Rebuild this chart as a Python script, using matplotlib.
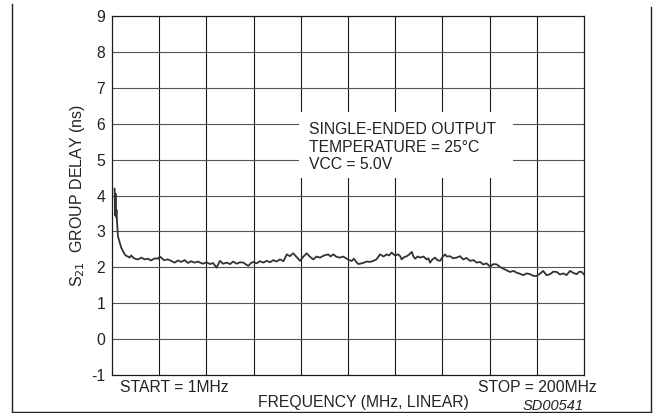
import matplotlib
matplotlib.use("Agg")
import matplotlib.pyplot as plt
from matplotlib.lines import Line2D
from matplotlib.patches import Rectangle

plt.rcParams['font.family'] = ['Liberation Sans', 'DejaVu Sans']

# Frequency (MHz) and S21 group delay (ns)
freq_mhz = [2.1, 2.3, 2.5, 2.7, 2.9, 3.1, 3.5, 4.2, 4.9, 5.6, 6.4, 7.0, 7.7, 8.4, 9.1, 9.9,
            10.6, 12.0, 13.4, 14.7, 16.2, 17.4, 19.1, 20.4, 21.2, 22.9, 24.6, 25.9, 27.4,
            28.8, 30.1, 31.7, 33.0, 34.3, 35.9, 37.3, 38.1, 39.4, 40.9, 42.3, 43.6, 45.1,
            46.5, 47.8, 49.4, 50.8, 52.1, 53.5, 55.0, 56.4, 57.5, 58.5, 59.6, 60.6, 61.9,
            63.4, 64.8, 66.2, 67.6, 69.0, 70.4, 71.8, 73.3, 74.7, 76.0, 77.4, 78.9, 80.3,
            81.7, 83.1, 84.5, 85.9, 87.2, 88.7, 90.4, 92.2, 93.1, 94.3, 95.7, 97.1, 98.4,
            100.0, 100.9, 102.1, 103.0, 104.2, 104.9, 105.6, 106.8, 108.4, 109.8, 111.2,
            112.5, 114.0, 115.5, 116.8, 117.8, 118.9, 120.3, 121.7, 122.6, 123.1, 124.1,
            125.3, 126.2, 127.4, 128.1, 128.8, 129.8, 130.9, 132.3, 133.7, 134.4, 135.1,
            136.1, 137.2, 138.2, 139.3, 140.3, 141.4, 142.2, 143.5, 144.8, 146.3, 147.7,
            149.1, 150.5, 151.9, 153.4, 154.8, 156.2, 157.5, 158.9, 160.4, 161.8, 163.2,
            164.6, 166.0, 167.3, 168.8, 170.3, 171.6, 173.0, 174.4, 175.8, 177.2, 178.7,
            180.1, 181.4, 182.8, 184.2, 185.7, 187.1, 188.5, 189.9, 191.3, 192.6, 194.1,
            195.6, 196.9, 198.1, 199.0, 200.0]
delay_ns = [4.19, 3.45, 4.05, 3.40, 3.60, 3.30, 2.87, 2.70, 2.55, 2.45, 2.36, 2.32, 2.30, 2.27,
            2.33, 2.27, 2.24, 2.22, 2.27, 2.22, 2.24, 2.19, 2.25, 2.24, 2.30, 2.20, 2.22, 2.18,
            2.13, 2.19, 2.15, 2.20, 2.12, 2.17, 2.13, 2.16, 2.13, 2.10, 2.14, 2.09, 2.12, 1.99,
            2.18, 2.10, 2.13, 2.09, 2.16, 2.10, 2.14, 2.13, 2.08, 2.04, 2.12, 2.15, 2.11, 2.17,
            2.13, 2.18, 2.14, 2.20, 2.16, 2.22, 2.17, 2.36, 2.31, 2.39, 2.28, 2.18, 2.30, 2.39,
            2.29, 2.22, 2.30, 2.27, 2.33, 2.36, 2.30, 2.36, 2.29, 2.27, 2.30, 2.24, 2.20, 2.18,
            2.24, 2.13, 2.09, 2.10, 2.12, 2.16, 2.15, 2.18, 2.22, 2.36, 2.30, 2.36, 2.33, 2.41,
            2.33, 2.36, 2.30, 2.22, 2.28, 2.31, 2.35, 2.43, 2.30, 2.24, 2.30, 2.27, 2.30, 2.22,
            2.25, 2.13, 2.22, 2.27, 2.20, 2.18, 2.28, 2.36, 2.30, 2.31, 2.25, 2.27, 2.31, 2.22,
            2.26, 2.18, 2.20, 2.13, 2.15, 2.08, 2.11, 2.02, 2.09, 2.08, 2.01, 1.96, 1.92, 1.87,
            1.90, 1.85, 1.82, 1.78, 1.83, 1.81, 1.76, 1.76, 1.82, 1.90, 1.78, 1.81, 1.88, 1.87,
            1.80, 1.83, 1.78, 1.90, 1.84, 1.81, 1.88, 1.87, 1.80]

y_ticks = [-1, 0, 1, 2, 3, 4, 5, 6, 7, 8, 9]
x_start, x_stop = 1, 200
n_div = 10
notes = ["SINGLE-ENDED OUTPUT", "TEMPERATURE = 25°C", "VCC = 5.0V"]

fig = plt.figure(figsize=(6.54, 4.13), dpi=100)
ax = fig.add_axes([112/654, 1-375/413, 472/654, 359/413])

ax.set_xlim(x_start, x_stop)
ax.set_ylim(-1, 9)
step = (x_stop - x_start) / n_div
ax.set_xticks([x_start + i*step for i in range(n_div + 1)])
ax.set_yticks(y_ticks)
ax.set_xticklabels([])
ax.set_yticklabels([str(v) for v in y_ticks], fontsize=11.3)
ax.tick_params(length=0, pad=5, labelcolor='#222222')

for i in range(1, n_div):
    ax.axvline(x_start + i*step, color='#1a1a1a', lw=0.8, zorder=1)
for v in y_ticks[1:-1]:
    ax.axhline(v, color='#555555', lw=0.8, zorder=1)
for s in ax.spines.values():
    s.set_color('#1a1a1a')
    s.set_linewidth(0.9)

# white box under the notes
ax.add_patch(Rectangle((79.8, 4.5), 170.1-79.8, 6.33-4.5, facecolor='white',
                       edgecolor='none', zorder=2))
for k, t in enumerate(notes):
    ax.text(84.0, 5.85 - k*0.5, t, fontsize=11.3, color='#222222', va='center', ha='left', zorder=3)

ax.plot(freq_mhz, delay_ns, color='#333333', lw=1.3, zorder=4)

ax.set_ylabel("S$_{21}$  GROUP DELAY (ns)", fontsize=11.5, color='#222222', labelpad=3)

fig.text(120/654, 1-388/413, "START = 1MHz", fontsize=11.3, color='#222222', va='center', ha='left')
fig.text(597/654, 1-388/413, "STOP = 200MHz", fontsize=11.3, color='#222222', va='center', ha='right')
fig.text(363/654, 1-403/413, "FREQUENCY (MHz, LINEAR)", fontsize=11.3, color='#222222', va='center', ha='center')
fig.text(584/654, 1-406/413, "SD00541", fontsize=10.5, style='italic', color='#222222', va='center', ha='right')

# outer frame (left, bottom, right)
fig.add_artist(Line2D([12/654, 12/654], [1-4/413, 1-412/413], color='#222222', lw=1.0))
fig.add_artist(Line2D([12/654, 651/654], [1-412/413, 1-412/413], color='#222222', lw=1.0))
fig.add_artist(Line2D([651/654, 651/654], [1-7/413, 1-412/413], color='#222222', lw=1.0))

fig.savefig("out.png", dpi=100)
